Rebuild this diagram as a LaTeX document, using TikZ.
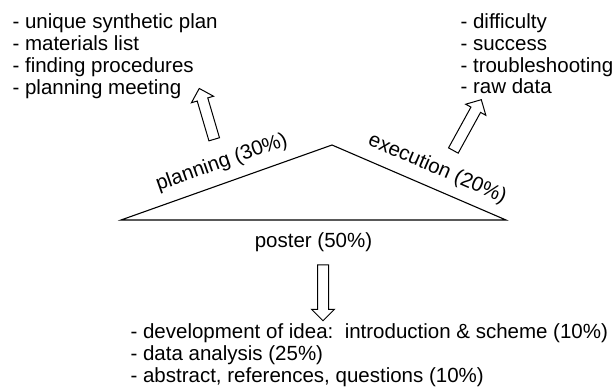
\documentclass[tikz,border=0pt]{standalone}
\usepackage{fontspec}
\setmainfont{Liberation Sans}
\usetikzlibrary{shapes.arrows}

\begin{document}
\begin{tikzpicture}[x=1pt,y=-1pt,line width=1.1pt,
every node/.style={font=\fontsize{20.5}{21.7}\selectfont},
itemlist/.style={align=left,inner sep=0pt,anchor=north west},
sidelabel/.style={inner sep=0pt,sloped},
blockarrow/.style={draw,single arrow,line width=1pt,inner sep=5pt,
    single arrow head extend=6pt,minimum height=#1}]
\useasboundingbox (0,0) rectangle (613,389);

% the three lists
\node[itemlist] (planlist) at (12,13.5) {- unique synthetic plan\\- materials list\\- finding procedures\\- planning meeting};
\node[itemlist] (execlist) at (460,13.3) {- difficulty\\- success\\- troubleshooting\\- raw data};
\node[itemlist] (posterlist) at (130,323.3) {- development of idea:\ \ introduction \& scheme (10\%)\\- data analysis (25\%)\\- abstract, references, questions (10\%)};

% triangle
\coordinate (left) at (121,220);
\coordinate (apex) at (332,145);
\coordinate (right) at (506,220);
\draw (left) -- node[sidelabel,pos=.51,above=10pt] (planlabel) {planning (30\%)} (apex)
  -- node[sidelabel,pos=.56,above=9.5pt] (execlabel) {execution (20\%)} (right)
  -- node[inner sep=0pt,below=12pt] (posterlabel) {poster (50\%)} cycle;

% block arrows
\node[blockarrow=53pt,rotate=106.4] (planarrow) at (207.5,116.5) {};
\node[blockarrow=58pt,rotate=61.2] (execarrow) at (466,127.5) {};
\node[blockarrow=56pt,rotate=-90] (posterarrow) at (323,290) {};
\end{tikzpicture}
\end{document}
